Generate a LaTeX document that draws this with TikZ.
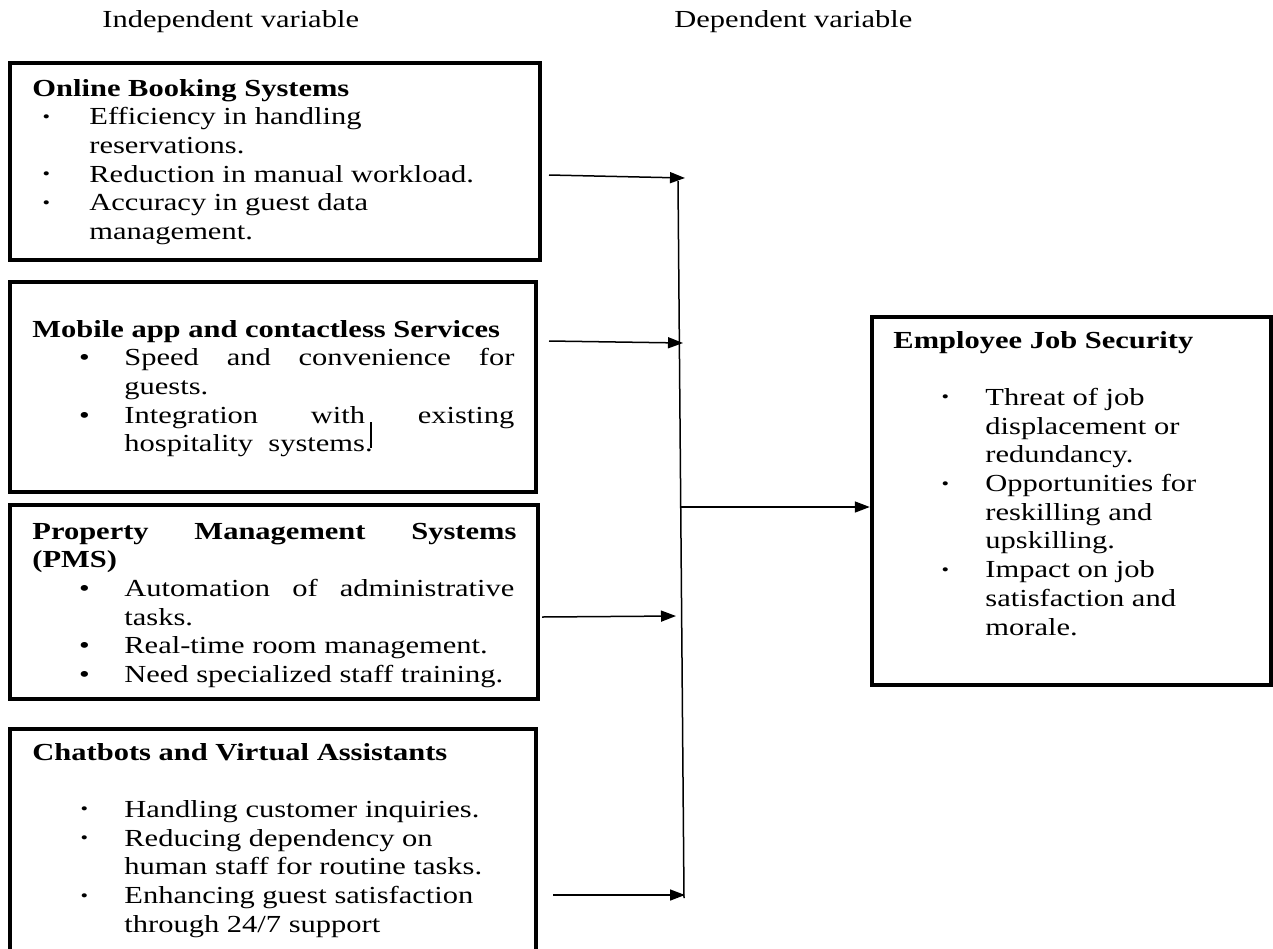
\documentclass[tikz,border=0pt]{standalone}
\usepackage{fontspec}
\setmainfont[FakeStretch=1.245]{Liberation Serif}
\usetikzlibrary{arrows.meta}
\newcommand{\bigb}{\textbullet}
\newcommand{\smb}{\raisebox{0.1em}{\scalebox{0.7}{\textbullet}}}
\newcommand{\bitem}[4]{\makebox[#2][l]{\hspace*{#1}\makebox[0pt]{#3}}#4}
\newcommand{\indt}[2]{\hspace*{#1}#2}
\begin{document}
\begin{tikzpicture}[x=0.5pt,y=-0.5pt,
  box/.style={draw, line width=2.2pt, inner sep=0pt},
  conn/.style={line width=0.75pt},
  arr/.style={conn, -{Triangle[length=7.5pt,width=5.5pt]}},
  txt/.style={anchor=base west, inner sep=0pt, font=\fontsize{12.25pt}{14.35pt}\selectfont},
  hdr/.style={anchor=base west, inner sep=0pt, font=\fontsize{12.25pt}{14.35pt}\selectfont}]
\useasboundingbox (0,0) rectangle (1273,948);
\clip (0,0) rectangle (1273,948);

% headers
\node[hdr] (h1) at (102,27) {Independent variable};
\node[hdr] (h2) at (674,27) {Dependent variable};

% boxes
\node[box, minimum width=265pt, minimum height=98.5pt] (b1) at (275,161.5) {};
\node[box, minimum width=263pt, minimum height=105pt] (b2) at (273,387) {};
\node[box, minimum width=264pt, minimum height=97pt] (b3) at (274,602) {};
\node[box, minimum width=263pt, minimum height=115.5pt] (b4) at (273,844.5) {};
\node[box, minimum width=199.5pt, minimum height=184pt] (e) at (1071.5,501) {};

% box texts
\node[txt] (t1) at (32,96) {\begin{tabular}[t]{@{}l@{}}
\textbf{Online Booking Systems}\\
\bitem{7pt}{28.5pt}{\smb}{Efficiency in handling}\\
\indt{28.5pt}{reservations.}\\
\bitem{7pt}{28.5pt}{\smb}{Reduction in manual workload.}\\
\bitem{7pt}{28.5pt}{\smb}{Accuracy in guest data}\\
\indt{28.5pt}{management.}
\end{tabular}};

\node[txt] (t2) at (32,337) {\begin{tabular}[t]{@{}l@{}}
\textbf{Mobile app and contactless Services}\\
\bitem{26pt}{46pt}{\bigb}{\makebox[195pt][s]{Speed and convenience for}}\\
\indt{46pt}{guests.}\\
\bitem{26pt}{46pt}{\bigb}{\makebox[195pt][s]{Integration with existing}}\\
\indt{46pt}{hospitality\ \ systems.}
\end{tabular}};

\node[txt] (t3) at (32,539) {\begin{tabular}[t]{@{}l@{}}
\makebox[242pt][s]{\textbf{Property Management Systems}}\\
\textbf{(PMS)}\\
\bitem{26pt}{46pt}{\bigb}{\makebox[195pt][s]{Automation of administrative}}\\
\indt{46pt}{tasks.}\\
\bitem{26pt}{46pt}{\bigb}{Real-time room management.}\\
\bitem{26pt}{46pt}{\bigb}{Need specialized staff training.}
\end{tabular}};

\node[txt] (t4) at (32,760) {\begin{tabular}[t]{@{}l@{}}
\textbf{Chatbots and Virtual Assistants}\\
\\
\bitem{26pt}{46pt}{\smb}{Handling customer inquiries.}\\
\bitem{26pt}{46pt}{\smb}{Reducing dependency on}\\
\indt{46pt}{human staff for routine tasks.}\\
\bitem{26pt}{46pt}{\smb}{Enhancing guest satisfaction}\\
\indt{46pt}{through 24/7 support}
\end{tabular}};

\node[txt] (t5) at (893,348) {\begin{tabular}[t]{@{}l@{}}
\textbf{Employee Job Security}\\
\\
\bitem{26pt}{46pt}{\smb}{Threat of job}\\
\indt{46pt}{displacement or}\\
\indt{46pt}{redundancy.}\\
\bitem{26pt}{46pt}{\smb}{Opportunities for}\\
\indt{46pt}{reskilling and}\\
\indt{46pt}{upskilling.}\\
\bitem{26pt}{46pt}{\smb}{Impact on job}\\
\indt{46pt}{satisfaction and}\\
\indt{46pt}{morale.}
\end{tabular}};

% stray bar in box 2
\coordinate (bar1) at (371,422);
\coordinate (bar2) at (371,448);
\draw[line width=0.6pt] (bar1) -- (bar2);

% connectors
\coordinate (s1) at (549,175); \coordinate (j1) at (685,178);
\coordinate (s2) at (549,341); \coordinate (j2) at (683,343);
\coordinate (s3) at (542,617); \coordinate (j3) at (676,616);
\coordinate (s4) at (553,895); \coordinate (j4) at (685,895);
\coordinate (vt) at (678,181); \coordinate (vb) at (684,898);
\coordinate (jm) at (681,507);
\draw[conn] (vt) -- (vb);
\draw[arr] (s1) -- (j1);
\draw[arr] (s2) -- (j2);
\draw[arr] (s3) -- (j3);
\draw[arr] (s4) -- (j4);
\draw[arr] (jm) -- (jm -| e.west);
\end{tikzpicture}
\end{document}
